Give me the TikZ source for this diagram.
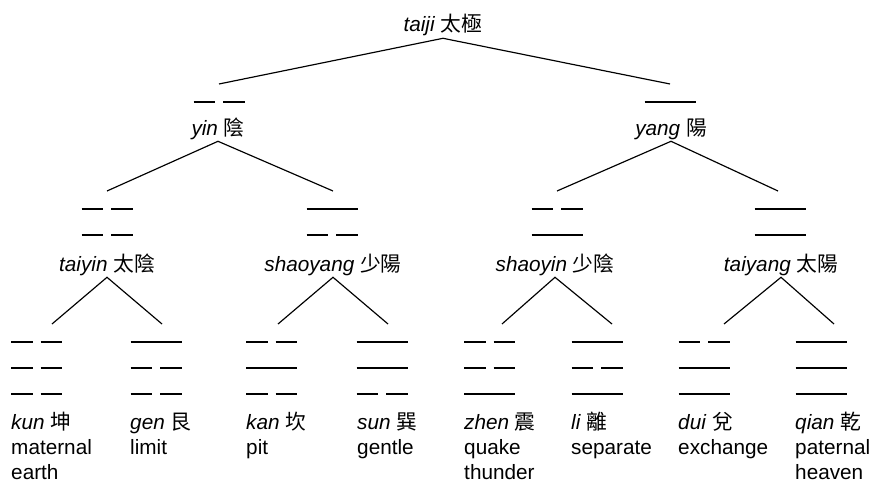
\documentclass[tikz,border=0pt]{standalone}
\usepackage{fontspec}
\setmainfont{Liberation Sans}
\newfontfamily\cjk{Noto Sans CJK TC}
\tikzset{
  yao/.style={line width=1.6pt},
  branch/.style={line width=1pt},
  tag/.style={inner sep=1.5pt,anchor=base},
  leaf/.style={inner sep=0pt,anchor=base west,align=left},
}
% one line of a trigram: 1 = solid, 0 = broken
\newcommand{\yaoline}[3]{%
  \ifnum#3=1
    \draw[yao] ({#1-25.5},{#2}) -- ({#1+25.5},{#2});
  \else
    \draw[yao] ({#1-25.5},{#2}) -- ({#1-4},{#2});
    \draw[yao] ({#1+4},{#2}) -- ({#1+25.5},{#2});
  \fi}
% x of centre, y of top line, lines from top to bottom
\newcommand{\trigram}[3]{%
  \foreach \k [count=\i from 0] in {#3} {\yaoline{#1}{#2+26*\i}{\k}}}

\begin{document}
\begin{tikzpicture}[x=0.03cm,y=-0.03cm,font=\fontsize{17.7}{21.26}\selectfont]
    \useasboundingbox (0,0) rectangle (874,482);
    % names
    \node[tag] (taiji) at (443,32) {\textit{taiji} {\cjk 太極}};
    \node[tag] (yin) at (218,135) {\textit{yin} {\cjk 陰}};
    \node[tag] (yang) at (671,135) {\textit{yang} {\cjk 陽}};
    \node[tag] (taiyin) at (107,271) {\textit{taiyin} {\cjk 太陰}};
    \node[tag] (shaoyang) at (333,271) {\textit{shaoyang} {\cjk 少陽}};
    \node[tag] (shaoyin) at (555,271) {\textit{shaoyin} {\cjk 少陰}};
    \node[tag] (taiyang) at (781,271) {\textit{taiyang} {\cjk 太陽}};
    % leaves sit on the baseline of their last line
    \node[leaf] (kun) at (11,479) {\textit{kun} {\cjk 坤}\\maternal\\earth};
    \node[leaf] (gen) at (130,454) {\textit{gen} {\cjk 艮}\\limit};
    \node[leaf] (kan) at (246,454) {\textit{kan} {\cjk 坎}\\pit};
    \node[leaf] (sun) at (357,454) {\textit{sun} {\cjk 巽}\\gentle};
    \node[leaf] (zhen) at (464,479) {\textit{zhen} {\cjk 震}\\quake\\thunder};
    \node[leaf] (li) at (571,454) {\textit{li} {\cjk 離}\\separate};
    \node[leaf] (dui) at (678,454) {\textit{dui} {\cjk 兌}\\exchange};
    \node[leaf] (qian) at (795,479) {\textit{qian} {\cjk 乾}\\paternal\\heaven};
    % lines
    \trigram{219}{102}{0}
    \trigram{670}{102}{1}
    \trigram{107}{209}{0,0}
    \trigram{332}{209}{1,0}
    \trigram{557}{209}{0,1}
    \trigram{780}{209}{1,1}
    \trigram{36.5}{342}{0,0,0}
    \trigram{156}{342}{1,0,0}
    \trigram{271.5}{342}{0,1,0}
    \trigram{382}{342}{1,1,0}
    \trigram{489.5}{342}{0,0,1}
    \trigram{597}{342}{1,0,1}
    \trigram{704}{342}{0,1,1}
    \trigram{821}{342}{1,1,1}
    % branch ends
    \coordinate (yin-t) at (219,84);
    \coordinate (yang-t) at (670,84);
    \coordinate (taiyin-t) at (107,191);
    \coordinate (shaoyang-t) at (333,191);
    \coordinate (shaoyin-t) at (557,191);
    \coordinate (taiyang-t) at (778,191);
    \coordinate (kun-t) at (52,324);
    \coordinate (gen-t) at (162,324);
    \coordinate (kan-t) at (278,324);
    \coordinate (sun-t) at (388,324);
    \coordinate (zhen-t) at (502,324);
    \coordinate (li-t) at (612,324);
    \coordinate (dui-t) at (724,324);
    \coordinate (qian-t) at (834,324);
    \draw[branch] (yin-t) -- (taiji.south) -- (yang-t);
    \draw[branch] (taiyin-t) -- (yin.south) -- (shaoyang-t);
    \draw[branch] (shaoyin-t) -- (yang.south) -- (taiyang-t);
    \draw[branch] (kun-t) -- (taiyin.south) -- (gen-t);
    \draw[branch] (kan-t) -- (shaoyang.south) -- (sun-t);
    \draw[branch] (zhen-t) -- (shaoyin.south) -- (li-t);
    \draw[branch] (dui-t) -- (taiyang.south) -- (qian-t);
\end{tikzpicture}
\end{document}
